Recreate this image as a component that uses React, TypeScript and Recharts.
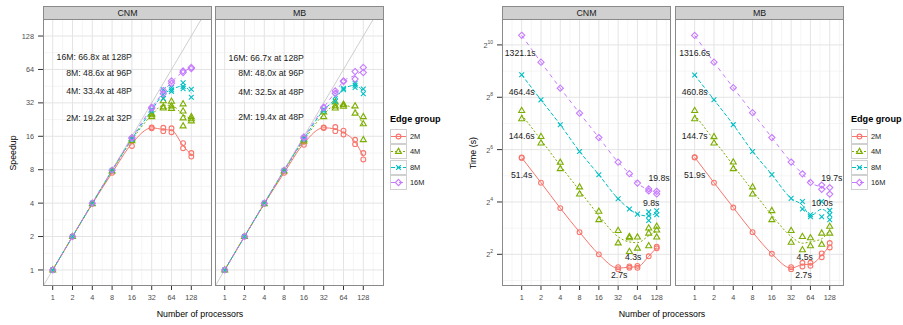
import React from 'react';
import {
  ComposedChart,
  Line,
  Scatter,
  XAxis,
  YAxis,
  CartesianGrid,
  ReferenceLine,
  ReferenceDot,
} from 'recharts';

const procs = [1, 2, 4, 8, 16, 32, 48, 64, 96, 128];
const xBreaks = [1, 2, 4, 8, 16, 32, 64, 128];
const speedBreaks = [1, 2, 4, 8, 16, 32, 64, 128];
const timeBreaks = [4, 16, 64, 256, 1024];
const groups = ['2M', '4M', '8M', '16M'];
const colors = ['#F8766D', '#7CAE00', '#00BFC4', '#C77CFF'];
const dashes = ['0', '2 2', '4 2', '4 4'];

// speedup, replicate runs per processor count
const spCnm2M = [[1], [2], [3.95], [7.5], [13.1, 14.5], [19.2, 18.9], [19.1, 17.8], [18.9, 17.4], [13.9, 12.5], [11.3, 10.5]];
const spCnm4M = [[1], [2], [3.95], [7.8], [14.6, 15.2], [25, 24, 25.5], [33.4, 28.7, 29.5], [33, 30, 28.5], [31.3, 27, 23.4, 19.8], [24, 23, 22]];
const spCnm8M = [[1], [2], [4], [7.9], [15, 15.3], [27, 28], [42, 35, 38], [44, 40.5, 42], [48.6, 43, 45], [42.5, 36]];
const spCnm16M = [[1], [2], [4], [7.9], [15.3, 15.6], [29.3, 28.5], [41.3, 38.7], [50.5, 48], [62, 60], [66.8, 65]];

const spMb2M = [[1], [2], [3.95], [7.5], [13.4, 14.3], [19.2, 19], [19.4, 17.8], [18, 16.6], [14.9, 13.6], [11.3, 9.9]];
const spMb4M = [[1], [2], [3.95], [7.8], [14.5, 15], [24, 26.5], [32.5, 28.7, 30], [30.7, 29.8, 31], [30, 25.8], [24, 20.7, 14.9]];
const spMb8M = [[1], [2], [4], [7.9], [15, 15.4], [28, 27], [36.5, 33], [43.4, 42], [48, 44, 46.2], [42.6, 38.6]];
const spMb16M = [[1], [2], [4], [7.9], [15.4, 15.8], [29.3, 28.8], [41, 39], [49.8, 50.5], [61.3, 52.4], [66.7, 60]];

// time in seconds, replicate runs per processor count
const tCnm2M = [[51.4, 52], [26.7], [13.6], [7.2], [4.0], [2.7, 2.85], [2.9, 2.8], [2.95, 2.8], [3.8], [4.7, 4.9]];
const tCnm4M = [[180, 144.6], [90.5, 76], [45.6, 38.6], [23.8, 19.7], [12.5, 10], [7.5, 5.4], [6.4, 4.3, 6.2], [6.3, 4.7], [8, 7, 5], [8.4, 7.6, 6.3]];
const tCnm8M = [[464.4], [239], [123.6], [61], [32.9], [17.4], [13.3], [11.6], [12.3, 11.1, 9.8], [12.7, 11.4]];
const tCnm16M = [[1321.1], [648], [326], [168], [88], [45.9], [33.8], [26.4], [22.6, 21.4], [21.2, 19.8]];

const tMb2M = [[51.9, 52.5], [26.7], [13.8], [7.2], [4.06], [2.7, 2.85], [2.9, 3.2], [3.2, 2.95], [4.1, 3.7], [5.4, 4.8]];
const tMb4M = [[180, 144.7], [90, 76], [46, 38.6], [23.8, 19.7], [12.7, 10], [7.5, 5.5], [6.4, 4.5], [6.2, 5.0], [7, 5.2], [8.4, 7]];
const tMb8M = [[460.8], [240], [124], [61], [33], [17.6], [16.2, 13.3], [11.4, 10.8], [16.2, 10.8], [12.8, 11.4, 10]];
const tMb16M = [[1316.6], [648], [330], [170], [88], [46], [33.7], [26.8], [25, 22.4], [23.4, 19.7]];

// text notes: [text, x, y]
const spNotes: [string, number, number][][] = [
  [['16M: 66.8x at 128P', 16, 82.6], ['8M: 48.6x at 96P', 16, 60], ['4M: 33.4x at 48P', 16, 41.3], ['2M: 19.2x at 32P', 16, 23.3]],
  [['16M: 66.7x at 128P', 16, 82], ['8M: 48.0x at 96P', 16, 59.3], ['4M: 32.5x at 48P', 16, 40], ['2M: 19.4x at 48P', 16, 23.8]],
];
const tNotes: [string, number, number][][] = [
  [['1321.1s', 0.95, 820], ['464.4s', 1, 298], ['144.6s', 1, 92.6], ['51.4s', 1, 32.9], ['19.8s', 139, 30], ['9.8s', 105, 15.6], ['4.3s', 55, 3.73], ['2.7s', 33.3, 2.33]],
  [['1316.6s', 1, 820], ['460.8s', 1, 298], ['144.7s', 1, 92.6], ['51.9s', 1, 32.9], ['19.7s', 138, 30], ['10.0s', 97.5, 15.6], ['4.5s', 52, 3.73], ['2.7s', 50, 2.33]],
];

const FONT = '"Liberation Sans", Arial, sans-serif';
const PANEL_TOP = 19;
const PANEL_H = 267;
const PANEL_W = 169;
const XH = 30;

const toPoints = (reps: number[][]) =>
  reps.flatMap((vals, i) => vals.map((v) => ({ x: procs[i], y: v })));
const toMeans = (reps: number[][]) =>
  reps.map((vals, i) => ({
    x: procs[i],
    y: Math.exp(vals.reduce((s, v) => s + Math.log(v), 0) / vals.length),
  }));

const minorOf = (majors: number[], step: number, dom: [number, number]) => {
  const m = [majors[0] / step, ...majors.map((v) => v * step)];
  return m.filter((v) => v > dom[0] && v < dom[1]);
};

const Marker = ({ cx, cy, g, color }: any) => {
  if (cx == null || cy == null) return null;
  const sw = 1.1;
  if (g === 0) return <circle cx={cx} cy={cy} r={2.4} fill="none" stroke={color} strokeWidth={sw} />;
  if (g === 1)
    return (
      <polygon
        points={`${cx},${cy - 3.3} ${cx - 3},${cy + 1.9} ${cx + 3},${cy + 1.9}`}
        fill="none"
        stroke={color}
        strokeWidth={sw}
      />
    );
  if (g === 2)
    return (
      <path d={`M${cx - 2.4},${cy - 2.4}L${cx + 2.4},${cy + 2.4}M${cx - 2.4},${cy + 2.4}L${cx + 2.4},${cy - 2.4}`} stroke={color} strokeWidth={sw} />
    );
  return (
    <polygon
      points={`${cx},${cy - 3.1} ${cx + 3.1},${cy} ${cx},${cy + 3.1} ${cx - 3.1},${cy}`}
      fill="none"
      stroke={color}
      strokeWidth={sw}
    />
  );
};

const PowTick = (props: any) => {
  const { x, y, payload } = props;
  const e = Math.round(Math.log2(payload.value));
  return (
    <text x={x} y={y} dy={3} textAnchor="end" fill="#4d4d4d" fontSize={7.3} fontFamily={FONT}>
      2<tspan fontSize={5} dy={-4}>{e}</tspan>
    </text>
  );
};

type PanelProps = {
  title: string;
  left: number;
  yAxisW: number;
  xDomain: [number, number];
  yDomain: [number, number];
  yBreaks: number[];
  yStep: number;
  series: number[][][];
  notes: [string, number, number][];
  noteAlign: 'left' | 'center';
  diag?: boolean;
  powTicks?: boolean;
};

function Panel(p: PanelProps) {
  const showY = p.yAxisW > 0;
  const w = PANEL_W + p.yAxisW;
  const xMinor = minorOf(xBreaks, Math.SQRT2, p.xDomain);
  const yMinor = minorOf(p.yBreaks, p.yStep, p.yDomain);
  return (
    <>
      <div
        style={{
          position: 'absolute',
          left: p.left,
          top: PANEL_TOP - 13,
          width: PANEL_W,
          height: 14,
          boxSizing: 'border-box',
          background: '#D0D0D0',
          border: '1px solid #8a8a8a',
          fontSize: 8.8,
          lineHeight: '12px',
          textAlign: 'center',
          color: '#1a1a1a',
        }}
      >
        {p.title}
      </div>
      <div style={{ position: 'absolute', left: p.left - p.yAxisW, top: PANEL_TOP }}>
        <ComposedChart width={w} height={PANEL_H + XH} margin={{ top: 0, right: 0, bottom: 0, left: 0 }}>
          <CartesianGrid stroke="#F3F3F3" strokeWidth={0.8} verticalValues={xMinor} horizontalValues={yMinor} />
          <CartesianGrid stroke="#E4E4E4" strokeWidth={1} verticalValues={xBreaks} horizontalValues={p.yBreaks} />
          <XAxis
            dataKey="x"
            type="number"
            scale="log"
            domain={p.xDomain}
            allowDataOverflow
            ticks={xBreaks}
            interval={0}
            height={XH}
            axisLine={false}
            tickSize={4}
            tickMargin={5}
            tickLine={{ stroke: '#333' }}
            tick={{ fill: '#4d4d4d', fontSize: 7.3, fontFamily: FONT }}
          />
          <YAxis
            dataKey="y"
            type="number"
            scale="log"
            domain={p.yDomain}
            allowDataOverflow
            ticks={p.yBreaks}
            interval={0}
            hide={!showY}
            width={p.yAxisW}
            axisLine={false}
            tickSize={5}
            tickMargin={4}
            tickLine={{ stroke: '#333' }}
            tick={p.powTicks ? <PowTick /> : { fill: '#4d4d4d', fontSize: 7.3, fontFamily: FONT }}
          />
          {p.diag && (
            <ReferenceLine
              segment={[
                { x: Math.max(p.xDomain[0], p.yDomain[0]), y: Math.max(p.xDomain[0], p.yDomain[0]) },
                { x: Math.min(p.xDomain[1], p.yDomain[1]), y: Math.min(p.xDomain[1], p.yDomain[1]) },
              ]}
              stroke="#C8C8C8"
              strokeWidth={0.9}
            />
          )}
          {p.series.map((reps, g) => (
            <Line
              key={'l' + g}
              data={toMeans(reps)}
              dataKey="y"
              type="monotone"
              stroke={colors[g]}
              strokeWidth={1}
              strokeDasharray={dashes[g]}
              dot={false}
              activeDot={false}
              isAnimationActive={false}
            />
          ))}
          {p.series.map((reps, g) => (
            <Scatter
              key={'s' + g}
              data={toPoints(reps)}
              dataKey="y"
              shape={(sp: any) => <Marker {...sp} g={g} color={colors[g]} />}
              isAnimationActive={false}
            />
          ))}
          {p.notes.map(([t, x, y], i) => (
            <ReferenceDot
              key={'n' + i}
              x={x}
              y={y}
              r={0}
              fill="none"
              stroke="none"
              label={{
                value: t,
                position: p.noteAlign,
                offset: 0,
                fill: '#1a1a1a',
                fontSize: 8.7,
                fontFamily: FONT,
              }}
            />
          ))}
        </ComposedChart>
      </div>
      <div
        style={{
          position: 'absolute',
          left: p.left,
          top: PANEL_TOP,
          width: PANEL_W,
          height: PANEL_H,
          boxSizing: 'border-box',
          border: '1px solid #8a8a8a',
          pointerEvents: 'none',
        }}
      />
    </>
  );
}

function EdgeLegend({ left }: { left: number }) {
  return (
    <div style={{ position: 'absolute', left, top: 114, fontFamily: FONT }}>
      <div style={{ fontSize: 9.1, fontWeight: 'bold', color: '#000', height: 15 }}>Edge group</div>
      {groups.map((g, i) => (
        <div key={g} style={{ display: 'flex', alignItems: 'center', height: 15.3 }}>
          <svg width={17} height={15} style={{ display: 'block' }}>
            <rect x={0.5} y={0.5} width={16} height={14} fill="#fff" stroke="#D0D0D0" />
            <line x1={1} x2={16} y1={7.5} y2={7.5} stroke={colors[i]} strokeWidth={1} strokeDasharray={dashes[i]} />
            <Marker cx={8.5} cy={7.5} g={i} color={colors[i]} />
          </svg>
          <span style={{ fontSize: 7.4, color: '#1a1a1a', marginLeft: 3 }}>{g}</span>
        </div>
      ))}
    </div>
  );
}

const SP_X: [number, number] = [2 ** -0.49, 2 ** 8.045];
const SP_Y: [number, number] = [2 ** -0.48, 2 ** 7.51];
const T_X: [number, number] = [2 ** -1.02, 2 ** 7.74];
const T_Y: [number, number] = [2 ** 0.79, 2 ** 10.99];

export default function App() {
  const axisTitle: React.CSSProperties = { position: 'absolute', fontSize: 8.8, color: '#000', whiteSpace: 'nowrap' };
  return (
    <div
      style={{
        position: 'absolute',
        left: 0,
        top: 0,
        width: 903,
        height: 325,
        background: '#fff',
        fontFamily: FONT,
        overflow: 'hidden',
      }}
    >
      <Panel title="CNM" left={43} yAxisW={43} xDomain={SP_X} yDomain={SP_Y} yBreaks={speedBreaks} yStep={Math.SQRT2}
        series={[spCnm2M, spCnm4M, spCnm8M, spCnm16M]} notes={spNotes[0]} noteAlign="left" diag />
      <Panel title="MB" left={215} yAxisW={0} xDomain={SP_X} yDomain={SP_Y} yBreaks={speedBreaks} yStep={Math.SQRT2}
        series={[spMb2M, spMb4M, spMb8M, spMb16M]} notes={spNotes[1]} noteAlign="left" diag />
      <Panel title="CNM" left={502} yAxisW={40} xDomain={T_X} yDomain={T_Y} yBreaks={timeBreaks} yStep={2}
        series={[tCnm2M, tCnm4M, tCnm8M, tCnm16M]} notes={tNotes[0]} noteAlign="center" powTicks />
      <Panel title="MB" left={675} yAxisW={0} xDomain={T_X} yDomain={T_Y} yBreaks={timeBreaks} yStep={2}
        series={[tMb2M, tMb4M, tMb8M, tMb16M]} notes={tNotes[1]} noteAlign="center" powTicks />

      <EdgeLegend left={390} />
      <EdgeLegend left={851} />

      <div style={{ ...axisTitle, left: 13, top: 153, transform: 'translate(-50%, -50%) rotate(-90deg)' }}>Speedup</div>
      <div style={{ ...axisTitle, left: 473, top: 153, transform: 'translate(-50%, -50%) rotate(-90deg)' }}>Time (s)</div>
      <div style={{ ...axisTitle, left: 200, top: 314, transform: 'translate(-50%, -50%)' }}>Number of processors</div>
      <div style={{ ...axisTitle, left: 662, top: 314, transform: 'translate(-50%, -50%)' }}>Number of processors</div>
    </div>
  );
}
